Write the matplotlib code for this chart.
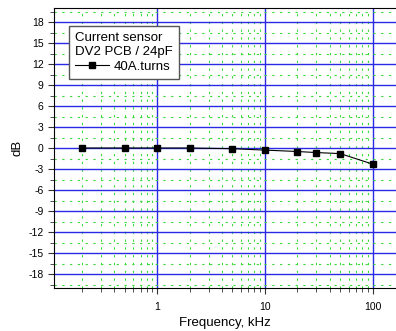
import numpy as np
import matplotlib.pyplot as plt
from matplotlib.ticker import MultipleLocator, LogLocator, NullFormatter, FixedLocator, FixedFormatter

plt.rcParams['font.family'] = ['Liberation Sans', 'DejaVu Sans']
plt.rcParams['axes.unicode_minus'] = False

freq_khz = [0.2, 0.5, 1, 2, 5, 10, 20, 30, 50, 100]
gain_db = [0.0, 0.0, 0.0, 0.0, -0.1, -0.3, -0.5, -0.65, -0.8, -2.3]
series_name = "40A.turns"
legend_title = "Current sensor\nDV2 PCB / 24pF"

fig = plt.figure(figsize=(3.96, 3.31), dpi=100)
ax = fig.add_axes([54/396, 43/331, 342/396, 280/331])

ax.set_xscale('log')
ax.set_xlim(0.11, 165)
ax.set_ylim(-20, 20)

ax.yaxis.set_major_locator(MultipleLocator(3))
ax.yaxis.set_minor_locator(MultipleLocator(1.5))
ax.xaxis.set_major_locator(FixedLocator([1, 10, 100]))
ax.xaxis.set_major_formatter(FixedFormatter(['1', '10', '100']))
ax.xaxis.set_minor_locator(LogLocator(base=10, subs=np.arange(2, 10)))
ax.xaxis.set_minor_formatter(NullFormatter())

# grid: blue major, green dotted minor
ax.grid(which='major', color='#2a2ae6', linestyle='-', linewidth=1.0)
ax.grid(which='minor', color='#3ad83a', linestyle=(0, (2, 5)), linewidth=0.8)
ax.set_axisbelow(True)

ax.plot(freq_khz, gain_db, color='black', linewidth=0.8, marker='s',
        markersize=4, label=series_name, zorder=3)

ax.tick_params(which='both', direction='out', labelsize=7.5, color='#333333')
ax.tick_params(which='major', length=4)
ax.tick_params(which='minor', length=3)
ax.tick_params(axis='x', which='major', pad=6)
ax.spines['right'].set_visible(False)

ax.set_xlabel("Frequency, kHz", fontsize=9.5)
ax.set_ylabel("dB", fontsize=9.5)
ax.xaxis.set_label_coords(0.5, -0.125)
ax.yaxis.set_label_coords(-0.108, 0.5)
ax.xaxis.label.set_va('center')
ax.yaxis.label.set_va('center')

leg = ax.legend(title=legend_title, loc='upper left', bbox_to_anchor=(15/342, 262/280),
                borderaxespad=0, fontsize=9.5, title_fontproperties={'size': 9.5},
                fancybox=False, framealpha=1, edgecolor='#555555', handlelength=2.6,
                handletextpad=0.3, borderpad=0.45, labelspacing=0.2)
leg.get_title().set_multialignment('left')
leg._legend_box.align = 'left'

fig.savefig('out.png', dpi=100)
